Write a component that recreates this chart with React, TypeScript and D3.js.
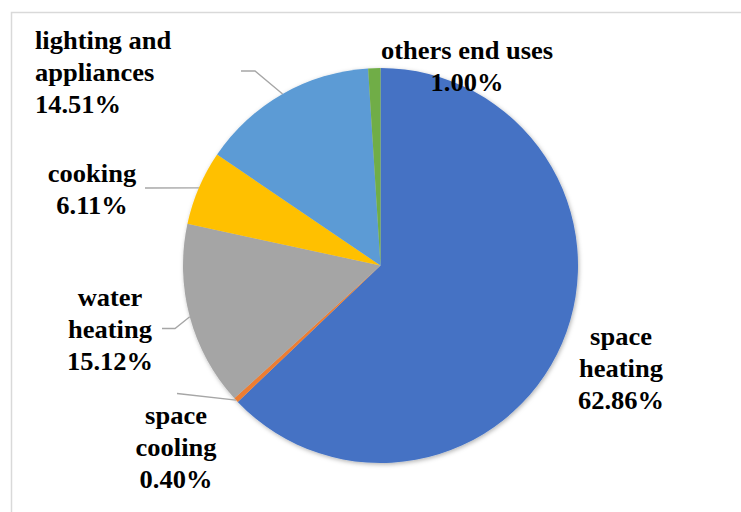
import React from "react";
import * as d3 from "d3";

const categories = ["space heating", "space cooling", "water heating", "cooking", "lighting and appliances", "others end uses"];
const shares = [62.86, 0.4, 15.12, 6.11, 14.51, 1.0];
const colors = ["#4472C4", "#ED7D31", "#A5A5A5", "#FFC000", "#5B9BD5", "#70AD47"];

const W = 741, H = 512;
const cx = 380.5, cy = 265.5, R = 197.5;

// label layout: lines, anchor, x, first baseline, leader elbow points
const layout: Record<string, { lines: string[]; anchor: string; x: number; y: number; leader?: [number, number][] }> = {
  "space heating": { lines: ["space", "heating"], anchor: "middle", x: 621, y: 345 },
  "space cooling": { lines: ["space", "cooling"], anchor: "middle", x: 176, y: 424, leader: [[177, 393.5]] },
  "water heating": { lines: ["water", "heating"], anchor: "middle", x: 110, y: 306.5, leader: [[162, 328.5], [175, 328.5]] },
  "cooking": { lines: ["cooking"], anchor: "middle", x: 92, y: 182, leader: [[145, 188]] },
  "lighting and appliances": { lines: ["lighting and", "appliances"], anchor: "start", x: 35, y: 49, leader: [[241, 71], [255, 71]] },
  "others end uses": { lines: ["others end uses"], anchor: "middle", x: 467, y: 59 },
};

export default function App() {
  const pie = d3.pie<number>().sort(null).value((d) => d)(shares);
  const arc = d3.arc<d3.PieArcDatum<number>>().innerRadius(0).outerRadius(R);
  const lineH = 32;
  const sx = 1.06;
  return (
    <svg width={W} height={H} style={{ position: "absolute", left: 0, top: 0 }}>
      <defs>
        <filter id="sh" x="-10%" y="-10%" width="120%" height="120%">
          <feDropShadow dx="1" dy="1.5" stdDeviation="2" floodColor="#000" floodOpacity="0.3" />
        </filter>
      </defs>
      <rect x={0} y={0} width={W} height={H} fill="#fff" />
      <rect x={11.5} y={12.5} width={W} height={H} fill="none" stroke="#d9d9d9" strokeWidth={1.5} />
      <g transform={`translate(${cx},${cy})`} filter="url(#sh)">
        {pie.map((p, i) => (
          <path key={i} d={arc(p) || ""} fill={colors[i]} />
        ))}
      </g>
      {pie.map((p, i) => {
        const L = layout[categories[i]];
        if (!L.leader) return null;
        const mid = (p.startAngle + p.endAngle) / 2;
        const end: [number, number] = [cx + R * Math.sin(mid), cy - R * Math.cos(mid)];
        const pts = [...L.leader, end];
        return (
          <polyline key={"l" + i} points={pts.map((q) => q.join(",")).join(" ")} fill="none" stroke="#a6a6a6" strokeWidth={1.3} />
        );
      })}
      {categories.map((c, i) => {
        const L = layout[c];
        const lines = [...L.lines, shares[i].toFixed(2) + "%"];
        return (
          <g key={"t" + i} transform={`translate(${L.x},0) scale(${sx},1)`}>
            <text x={0} y={L.y} textAnchor={L.anchor as any} fontFamily="Liberation Serif" fontWeight="bold" fontSize={25} fill="#000">
              {lines.map((ln, k) => (
                <tspan key={k} x={0} y={L.y + k * lineH}>{ln}</tspan>
              ))}
            </text>
          </g>
        );
      })}
    </svg>
  );
}
